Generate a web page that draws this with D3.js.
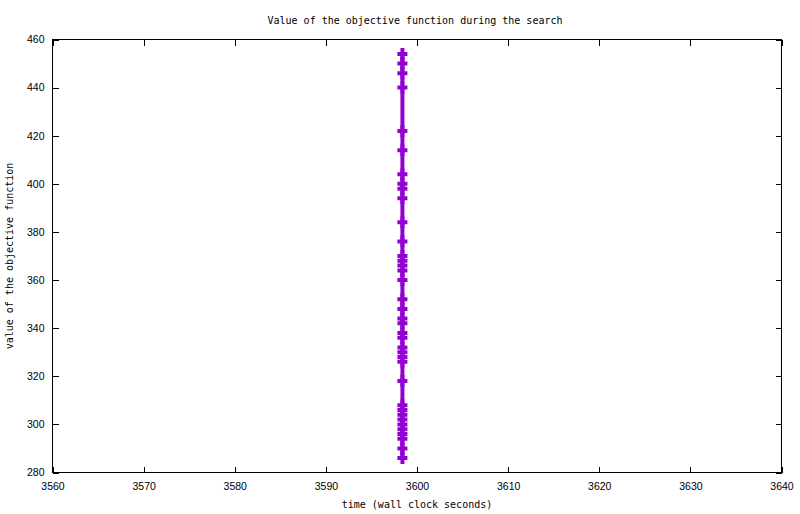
<!DOCTYPE html>
<html>
<head>
<meta charset="utf-8">
<script src="https://cdn.jsdelivr.net/npm/d3@7"></script>
<style>
  html, body { margin: 0; padding: 0; background: #fff; }
  svg { display: block; }
</style>
</head>
<body>
<svg id="chart" width="800" height="514"></svg>
<script>
// ---- data ----
const titleText = "Value of the objective function during the search";
const xLabelText = "time (wall clock seconds)";
const yLabelText = "value of the objective function";
const xTicks = [3560, 3570, 3580, 3590, 3600, 3610, 3620, 3630, 3640];
const yTicks = [280, 300, 320, 340, 360, 380, 400, 420, 440, 460];
const xDomain = [3560, 3640];
const yDomain = [280, 460];
const times = [3598.4, 3598.4, 3598.4, 3598.4, 3598.4, 3598.4, 3598.4, 3598.4, 3598.4, 3598.4,
               3598.4, 3598.4, 3598.4, 3598.4, 3598.4, 3598.4, 3598.4, 3598.4, 3598.4, 3598.4,
               3598.4, 3598.4, 3598.4, 3598.4, 3598.4, 3598.4, 3598.4, 3598.4, 3598.4, 3598.4,
               3598.4, 3598.4, 3598.4, 3598.4, 3598.4, 3598.4, 3598.4, 3598.4];
const values = [454, 450, 446, 440, 422, 414, 404, 400, 398, 394,
                384, 376, 370, 368, 366, 364, 360, 352, 348, 344,
                342, 338, 336, 332, 330, 328, 326, 318, 308, 306,
                304, 302, 300, 298, 296, 294, 290, 286];

// ---- layout ----
const plotL = 52.5, plotR = 781.5, plotT = 39.5, plotB = 472.5;
const color = "#9400d3";
const svg = d3.select("#chart");

const x = d3.scaleLinear().domain(xDomain).range([plotL, plotR]);
const y = d3.scaleLinear().domain(yDomain).range([plotB, plotT]);

const tickLen = 6;
const sansFont = "'Liberation Sans', Arial, sans-serif";
const monoFont = "'DejaVu Sans Mono', monospace";

// axes (ticks inward, mirrored)
const gBottom = svg.append("g").attr("transform", `translate(0,${plotB})`)
  .call(d3.axisBottom(x).tickValues(xTicks).tickSizeInner(-tickLen).tickSizeOuter(0).tickPadding(10).tickFormat(d3.format("d")));
const gTop = svg.append("g").attr("transform", `translate(0,${plotT})`)
  .call(d3.axisTop(x).tickValues(xTicks).tickSizeInner(-tickLen).tickSizeOuter(0).tickFormat(""));
const gLeft = svg.append("g").attr("transform", `translate(${plotL},0)`)
  .call(d3.axisLeft(y).tickValues(yTicks).tickSizeInner(-tickLen).tickSizeOuter(0).tickPadding(8).tickFormat(d3.format("d")));
const gRight = svg.append("g").attr("transform", `translate(${plotR},0)`)
  .call(d3.axisRight(y).tickValues(yTicks).tickSizeInner(-tickLen).tickSizeOuter(0).tickFormat(""));

[gBottom, gTop, gLeft, gRight].forEach(g => {
  g.select(".domain").remove();
  g.selectAll(".tick line").attr("stroke", "#000").attr("shape-rendering", "crispEdges");
  g.selectAll(".tick text").attr("fill", "#000").style("font-family", sansFont).style("font-size", "10.5px");
});

// frame
svg.append("rect")
  .attr("x", plotL).attr("y", plotT)
  .attr("width", plotR - plotL).attr("height", plotB - plotT)
  .attr("fill", "none").attr("stroke", "#000").attr("stroke-width", 1)
  .attr("shape-rendering", "crispEdges");

// data
const pts = values.map((v, i) => [times[i], v]);
svg.append("path")
  .datum(pts)
  .attr("fill", "none")
  .attr("stroke", color)
  .attr("stroke-width", 4)
  .attr("d", d3.line().x(d => x(d[0])).y(d => y(d[1])));

svg.append("g").selectAll("path.pt")
  .data(pts)
  .join("path")
  .attr("class", "pt")
  .attr("transform", d => `translate(${x(d[0])},${y(d[1])})`)
  .attr("d", "M-5,0H5M0,-6V6")
  .attr("stroke", color)
  .attr("stroke-width", 4)
  .attr("fill", "none");

// texts
svg.append("text")
  .attr("x", 415).attr("y", 24)
  .attr("text-anchor", "middle")
  .style("font-family", monoFont).style("font-size", "10px")
  .text(titleText);

svg.append("text")
  .attr("x", 417).attr("y", 508)
  .attr("text-anchor", "middle")
  .style("font-family", monoFont).style("font-size", "10px")
  .text(xLabelText);

svg.append("text")
  .attr("transform", `translate(13,256) rotate(-90)`)
  .attr("text-anchor", "middle")
  .style("font-family", monoFont).style("font-size", "10px")
  .text(yLabelText);
</script>
</body>
</html>
